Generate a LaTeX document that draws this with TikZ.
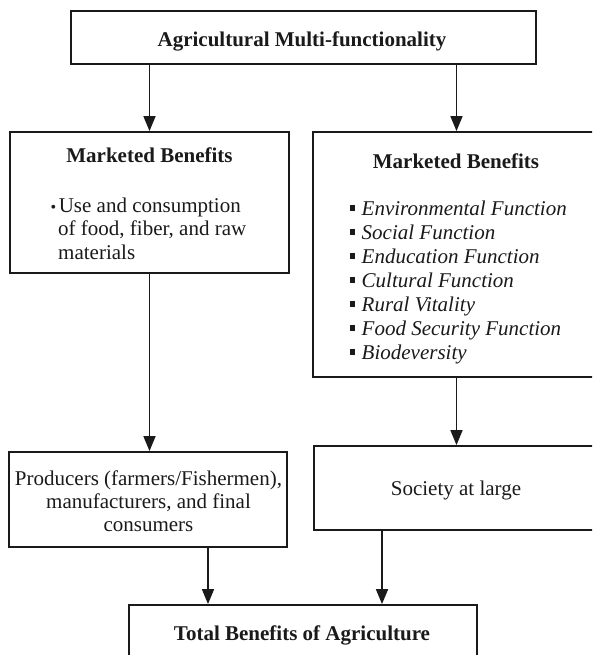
\documentclass[tikz,border=0pt]{standalone}
\usepackage{fontspec}
\setmainfont{Liberation Serif}
\usetikzlibrary{arrows.meta,calc}
\definecolor{ink}{HTML}{1A1A1A}
\tikzset{
  box/.style={draw=ink, line width=1.8pt, inner sep=0pt, fill=white},
  conn/.style={draw=ink, line width=1.6pt, -{Triangle[length=15pt,width=12pt]}},
  txt/.style={inner sep=0pt, text=ink, font=\fontsize{21}{24}\selectfont},
  ln/.style={txt, anchor=base west},
  cl/.style={txt, anchor=base},
}
\newcommand{\sqb}{\rule[4.5pt]{5.5pt}{5.5pt}\hspace{6.5pt}}
\newcommand{\smbul}{{\fontsize{16}{16}\selectfont •}\hspace{2.5pt}}
\begin{document}
\begin{tikzpicture}[x=1pt,y=-1pt]
\useasboundingbox (0,0) rectangle (592,655);
\clip (0,0) rectangle (592,655);
\fill[white] (0,0) rectangle (592,655);

% boxes
\node[box, minimum width=465pt, minimum height=53pt] (top) at (303.5,37.5) {};
\node[box, minimum width=279pt, minimum height=141pt] (lmb) at (149.5,202.5) {};
\node[box, minimum width=287pt, minimum height=245pt] (rmb) at (456.5,254.5) {};
\node[box, minimum width=278pt, minimum height=95pt] (prod) at (148,499.5) {};
\node[box, minimum width=286pt, minimum height=84pt] (soc) at (457,488) {};
\node[box, minimum width=348pt, minimum height=95pt] (tot) at (303,652.5) {};

% texts
\node[cl] (toptxt) at (302,47) {\bfseries Agricultural Multi-functionality};

\node[cl] (lmbt) at (149.5,163) {\bfseries Marketed Benefits};
\node[ln] (l1) at (50.5,212) {\smbul Use and consumption};
\node[ln] (l2) at (58,235.5) {of food, fiber, and raw};
\node[ln] (l3) at (58,259) {materials};

\node[cl] (rmbt) at (456,168) {\bfseries Marketed Benefits};
\node[ln] (r1) at (349.5,215) {\sqb\textit{Environmental Function}};
\node[ln] (r2) at (349.5,239) {\sqb\textit{Social Function}};
\node[ln] (r3) at (349.5,263) {\sqb\textit{Enducation Function}};
\node[ln] (r4) at (349.5,287) {\sqb\textit{Cultural Function}};
\node[ln] (r5) at (349.5,311) {\sqb\textit{Rural Vitality}};
\node[ln] (r6) at (349.5,335) {\sqb\textit{Food Security Function}};
\node[ln] (r7) at (349.5,359) {\sqb\textit{Biodeversity}};

\node[cl] (p1) at (148.5,485) {Producers (farmers/Fishermen),};
\node[cl] (p2) at (148.5,508) {manufacturers, and final};
\node[cl] (p3) at (148.5,531) {consumers};

\node[cl] (soct) at (456,495) {Society at large};

\node[cl] (tott) at (302,640) {\bfseries Total Benefits of Agriculture};

% connectors
\draw[conn] (top.south -| lmb.north) -- (lmb.north);
\draw[conn] (top.south -| rmb.north) -- (rmb.north);
\draw[conn] (lmb.south) -- (lmb.south |- prod.north);
\draw[conn] (rmb.south) -- (rmb.south |- soc.north);
\coordinate (pout) at ($(prod.south)+(60,0)$);
\coordinate (sout) at ($(soc.south)+(-75,0)$);
\draw[conn] (pout) -- (pout |- tot.north);
\draw[conn] (sout) -- (sout |- tot.north);
\end{tikzpicture}
\end{document}
